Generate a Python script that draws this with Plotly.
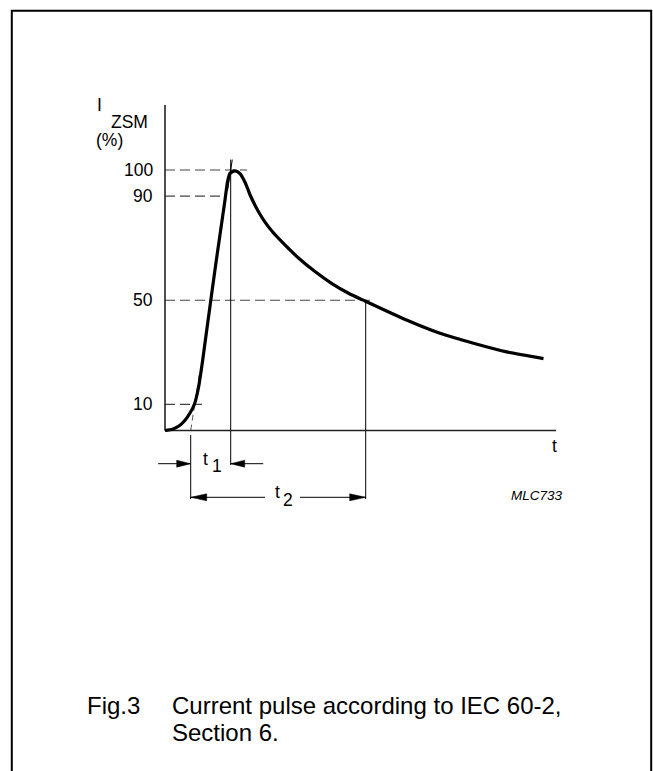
import plotly.graph_objects as go

# ---------------- data ----------------
# time axis in arbitrary units, current in % of I_ZSM
t_vals = [0, 1.5, 3.0, 4.0, 5.0, 5.9, 6.7, 7.5, 8.2, 10.2, 12.0, 12.5, 13.0,
          14.0, 15.0, 16.0, 16.5, 17.0, 18.0, 19.0, 20.0, 21.5, 23.3, 26.7,
          30.0, 33.3, 36.7, 40.0, 48.3, 55.0, 61.7, 68.3, 75.7]
i_vals = [0, 0.5, 2.0, 3.9, 6.7, 10.2, 16.5, 26.5, 36.5, 64.5, 88.5, 95.5, 98.7,
          99.7, 98.6, 95.3, 93.0, 90.5, 86.5, 83.0, 80.0, 76.3, 72.6, 66.2,
          61.0, 56.5, 52.7, 49.7, 42.4, 37.3, 33.5, 30.2, 27.6]

ytick_vals = [10, 50, 90, 100]
ytick_text = ["10", "50", "90", "100"]
# extent (in t) of the dashed reference line drawn at each tick level
level_ends = [7.4, 41.6, 12.2, 16.4]

T_O1 = 5.14   # virtual origin of the pulse
T1 = 8.0      # front time
T2 = 35.0     # time to half value
T_AXIS_END = 78.2
I_AXIS_TOP = 125

# ---------------- layout constants ----------------
W, H = 653, 771
X0_PX, Y0_PX = 165, 430.5
PX_PER_T, PX_PER_PCT = 5.0, 2.605
x_range = [(0 - X0_PX) / PX_PER_T, (W - X0_PX) / PX_PER_T]
y_range = [(Y0_PX - H) / PX_PER_PCT, Y0_PX / PX_PER_PCT]

def px_t(p):  # horizontal pixel distance -> t units
    return p / PX_PER_T

def px_i(p):  # vertical pixel distance -> % units
    return p / PX_PER_PCT

def vy(py):  # page pixel y -> % value
    return (Y0_PX - py) / PX_PER_PCT

FONT = "Liberation Sans, Arial, Helvetica, sans-serif"
fig = go.Figure()

def line(xs, ys, width=1.0, color="black", dash=None):
    fig.add_trace(go.Scatter(x=xs, y=ys, mode="lines", hoverinfo="skip",
                             showlegend=False,
                             line=dict(color=color, width=width, dash=dash)))

def arrowhead(tip_t, tip_i, direction, length_px=14, half_w_px=3.5):
    base = tip_t - direction * px_t(length_px)
    fig.add_trace(go.Scatter(
        x=[tip_t, base, base, tip_t],
        y=[tip_i, tip_i + px_i(half_w_px), tip_i - px_i(half_w_px), tip_i],
        mode="lines", fill="toself", fillcolor="black", hoverinfo="skip",
        showlegend=False, line=dict(color="black", width=0.5)))

DASH = "10px,5px"
# dashed level lines
for lv, le in zip(ytick_vals, level_ends):
    line([0, le], [lv, lv], width=1.2, color="#444", dash=DASH)

# virtual front line through (T_O1,0) and (T_O1+T1,100)
def front_t(v):
    return T_O1 + T1 * v / 100.0
line([front_t(0), front_t(22)], [0, 22], width=1.0, color="#555", dash="6px,4px")
line([front_t(92), front_t(104)], [92, 104], width=1.0, color="black")

# vertical marker lines
arrow1_i = vy(463.7)
arrow2_i = vy(497.3)
line([T_O1 + T1, T_O1 + T1], [104, vy(465)], width=1.0)
line([T_O1, T_O1], [vy(435), vy(499)], width=1.0)
line([T_O1 + T2, T_O1 + T2], [50, vy(499)], width=1.0)

# axes
line([0, 0], [0, I_AXIS_TOP], width=1.6, color="#222")
line([0, T_AXIS_END], [0, 0], width=1.6, color="#222")

# pulse curve
fig.add_trace(go.Scatter(x=t_vals, y=i_vals, mode="lines", hoverinfo="skip",
                         showlegend=False,
                         line=dict(color="black", width=3.2, shape="spline",
                                   smoothing=0.6)))

# t1 arrows
ARROW_OUT = 6.5
line([T_O1 - ARROW_OUT, T_O1], [arrow1_i, arrow1_i], width=1.0)
arrowhead(T_O1, arrow1_i, +1)
line([T_O1 + T1 + ARROW_OUT, T_O1 + T1], [arrow1_i, arrow1_i], width=1.0)
arrowhead(T_O1 + T1, arrow1_i, -1)

# t2 arrows with gap for the label
t2_label_t = (282.5 - X0_PX) / PX_PER_T
gap = 3.5
line([T_O1, t2_label_t - gap], [arrow2_i, arrow2_i], width=1.0)
line([t2_label_t + gap, T_O1 + T2], [arrow2_i, arrow2_i], width=1.0)
arrowhead(T_O1, arrow2_i, -1, length_px=16)
arrowhead(T_O1 + T2, arrow2_i, +1, length_px=16)

# ---------------- text ----------------
def px(x):
    return x / W

def py(y):
    return 1 - y / H

annos = []
def txt(s, x, y, size=17.5, xanchor="center", yanchor="middle", italic=False,
        xref="paper", yref="paper"):
    t = "<i>%s</i>" % s if italic else s
    annos.append(dict(text=t, x=x, y=y, xref=xref, yref=yref, showarrow=False,
                      xanchor=xanchor, yanchor=yanchor,
                      font=dict(family=FONT, size=size, color="black")))

for v, s in zip(ytick_vals, ytick_text):
    txt(s, px(155), v, xanchor="right", yref="y")

txt("I", px(100), py(105))
txt("ZSM", px(129), py(121.5))
txt("(%)", px(109), py(140))
txt("t", px(554), py(446))
txt("t", px(205.5), py(459))
txt("1", px(216.5), py(466))
txt("t", px(277.5), py(492.5))
txt("2", px(287.5), py(500))
txt("MLC733", px(537), py(495), size=13.5, italic=True)

CAP = 24
txt("Fig.3", px(85), py(705), size=CAP, xanchor="left")
txt("Current pulse according to IEC 60-2,", px(170), py(705), size=CAP, xanchor="left")
txt("Section 6.", px(170), py(732.5), size=CAP, xanchor="left")

# outer frame (open at the bottom edge of the page)
shapes = [dict(type="rect", xref="paper", yref="paper",
               x0=px(11.8), x1=px(651.2), y0=-0.05, y1=py(10.8),
               line=dict(color="black", width=2))]

fig.update_layout(
    width=W, height=H, autosize=False,
    margin=dict(l=0, r=0, t=0, b=0, pad=0),
    paper_bgcolor="white", plot_bgcolor="white",
    xaxis=dict(range=x_range, visible=False, fixedrange=True),
    yaxis=dict(range=y_range, visible=False, fixedrange=True),
    annotations=annos, shapes=shapes,
)

fig.write_html("out.html", config={"displayModeBar": False},
               post_script="document.body.style.margin='0';")
